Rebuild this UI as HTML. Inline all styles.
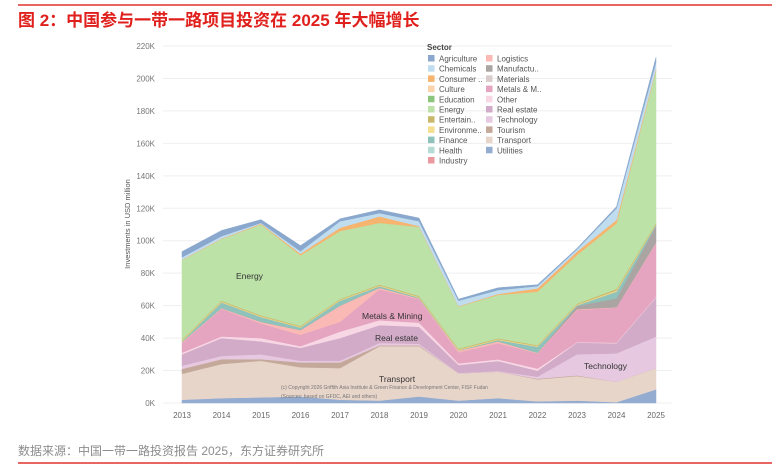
<!DOCTYPE html>
<html><head><meta charset="utf-8">
<style>
body{margin:0;background:#fff;width:782px;height:468px;overflow:hidden;font-family:"Liberation Sans","Noto Sans CJK SC",sans-serif;}
svg{display:block}
</style></head><body>
<svg id="chart" width="782" height="468" xmlns="http://www.w3.org/2000/svg">
<line x1="18" y1="5" x2="772" y2="5" stroke="#e0332f" stroke-width="1.5"/>
<text x="18" y="26" font-size="17" font-weight="bold" fill="#e0201c" font-family="Liberation Sans,Noto Sans CJK SC,sans-serif">图 2：中国参与一带一路项目投资在 2025 年大幅增长</text>
<g id="grid"></g>
<g id="areas"></g>
<g id="axes"></g>
<text transform="translate(130,224) rotate(-90)" text-anchor="middle" font-size="7.5" fill="#555">Investments in USD million</text>
<g font-size="8.5" fill="#333">
<text x="236" y="279">Energy</text>
<text x="362" y="319">Metals &amp; Mining</text>
<text x="375" y="341">Real estate</text>
<text x="379" y="382">Transport</text>
<text x="584" y="369">Technology</text>
</g>
<text x="281" y="389" font-size="5" fill="#777">(c) Copyright 2026 Griffith Asia Institute &amp; Green Finance &amp; Development Center, FISF Fudan</text>
<text x="281" y="398" font-size="5" fill="#777">(Sources: based on GFDC, AEI and others)</text>
<g id="legend"></g>
<text x="18" y="455" font-size="12" fill="#8c8c8c">数据来源：中国一带一路投资报告 2025，东方证券研究所</text>
<line x1="18" y1="463" x2="772" y2="463" stroke="#e0332f" stroke-width="1.5"/>
</svg>
<script>
const years=[2013,2014,2015,2016,2017,2018,2019,2020,2021,2022,2023,2024,2025];
const yTicks=[0,20,40,60,80,100,120,140,160,180,200,220];
const utilities=[2,3,3.5,4,2,1.5,4,1.5,3,1,1.5,0.5,8.4];
const transport=[16,21,22.5,18,19.5,33.5,31,16.8,16.3,13.6,15.1,12.6,13];
const tourism=[3,3,1,3,3.5,0.5,0.5,0,0,0.4,0.4,0,0];
const technology=[2,2,3,1,1,1.5,1,0.2,0.4,1.2,13,17.5,19.5];
const realEstate=[7,11,8,8,14,11,10.5,4.9,6.2,3.7,7.2,6.2,24.2];
const other=[1,1,2,1,4,3,2.5,1,1,1.3,0.3,0.4,0.4];
const metals=[6,17,9,7,6,19,14.5,6.8,9.9,9.4,19.8,21.6,32.9];
const logistics=[0.5,0.5,1,3,10,1,0.5,1.1,1.2,0.4,0.5,0.2,0.4];
const manufacturing=[0,0,0,0,0,0,0,0,0,0,2,5.5,10.5];
const finance=[0.5,3.5,3,1.5,3,1,0.5,0.2,0.8,3.7,0.4,4.1,0.7];
const environment=[0.5,0.5,0.5,0.5,0.5,0.5,0.5,0.5,0.5,0.5,0.5,0.8,0.5];
const entertainment=[0.5,0.5,0.5,0.5,0.5,0.5,0.5,0.5,0.5,0.5,0.5,0.9,0.5];
const energy=[49,38,56,43.5,42,38,42.5,25.9,26.8,32.9,30,40.4,94];
const consumer=[0.3,0.3,0.5,1,2,4,0.5,0.3,0.6,2,2.1,2.1,1];
const chemicals=[1.5,1.5,0.5,1.5,4,2,3,3.3,2.4,1.4,1.4,7.2,4];
const agriculture=[3.5,3.5,2,3.5,1.5,2,2,1,1.4,0.9,0.6,1,3];
const series=[["utilities",utilities,"#93acd0"],["transport",transport,"#e8d5ca"],["tourism",tourism,"#c4a99b"],["technology",technology,"#e6c9e0"],["real-estate",realEstate,"#d2abc9"],["other",other,"#f8d7e4"],["metals-mining",metals,"#e5a4c0"],["logistics",logistics,"#fab9b5"],["manufacturing",manufacturing,"#aaa5a3"],["finance",finance,"#8ec2ba"],["environment",environment,"#f0d98a"],["entertainment",entertainment,"#c9b86a"],["energy",energy,"#bce2a8"],["consumer",consumer,"#f6b46e"],["chemicals",chemicals,"#c0ddf0"],["agriculture",agriculture,"#8aa8cd"]];
const legendNames=["Agriculture","Chemicals","Consumer ..","Culture","Education","Energy","Entertain..","Environme..","Finance","Health","Industry","Logistics","Manufactu..","Materials","Metals & M..","Other","Real estate","Technology","Tourism","Transport","Utilities"];
const legendColors=["#8aa8cd","#c0ddf0","#f6b46e","#fdd3a9","#8cc57c","#bce2a8","#c9b86a","#f5de8e","#8ec2ba","#b4dcd4","#ea9a9f","#fab9b5","#aaa5a3","#d8cccc","#e5a4c0","#f8d7e4","#d2abc9","#e6c9e0","#c4a99b","#e8d5ca","#93acd0"];
const NS="http://www.w3.org/2000/svg";
const x=i=>182+(656-182)*i/(years.length-1);
const y=v=>403-v*(403-46)/220;
function mk(t,a,p){const e=document.createElementNS(NS,t);for(const k in a)e.setAttribute(k,a[k]);p.appendChild(e);return e;}
const grid=document.getElementById('grid'),axes=document.getElementById('axes');
yTicks.forEach(t=>{
 const l=mk('line',{x1:163,x2:672,y1:y(t),y2:y(t),stroke:'#efefef','stroke-width':1},grid);
 
 
 const tx=mk('text',{x:155,y:y(t)+3,'text-anchor':'end','font-size':8,fill:'#777'},axes);
 tx.textContent=t+'K';
 
 
});
years.forEach((yr,i)=>{
 const tx=mk('text',{x:x(i),y:418,'text-anchor':'middle','font-size':8,fill:'#666'},axes);
 tx.textContent=yr;
 
 
});
const areas=document.getElementById('areas');
let base=years.map(()=>0);
series.forEach(([name,vals,col])=>{
 const top=base.map((b,i)=>b+vals[i]);
 let d='M'+top.map((v,i)=>x(i)+','+y(v)).join('L');
 for(let i=years.length-1;i>=0;i--)d+='L'+x(i)+','+y(base[i]);
 d+='Z';
 const p=mk('path',{d:d,fill:col,stroke:col,'stroke-width':0.5},areas);
 
 
 base=top;
});
const lg=document.getElementById('legend');
const st=mk('text',{x:427,y:50,'font-size':8,'font-weight':'bold',fill:'#444'},lg);
st.textContent='Sector';


legendNames.forEach((n,i)=>{
 const col=i<11?0:1,row=i<11?i:i-11;
 const gx=428+col*58,gy=55+row*10.2;
 const g=mk('g',{},lg);
 
 
 mk('rect',{x:gx,y:gy,width:6.5,height:6.5,fill:legendColors[i]},g);
 const t=mk('text',{x:gx+11,y:gy+6.5,'font-size':8,fill:'#555'},g);
 t.textContent=n;
});
</script>
</body></html>
